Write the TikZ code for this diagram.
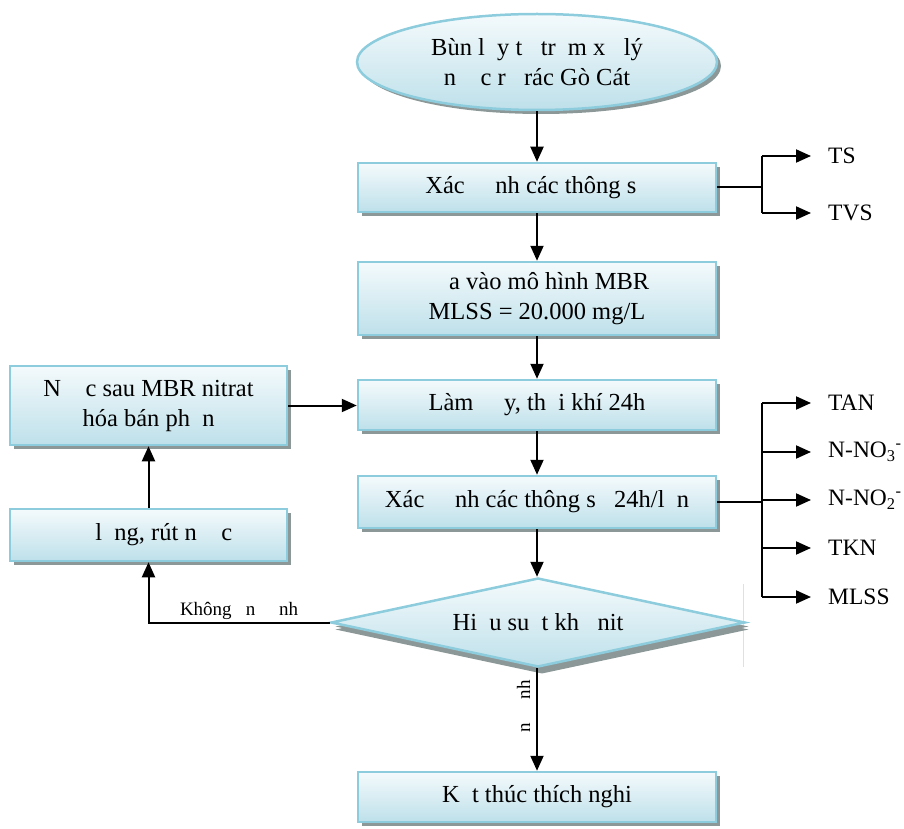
\documentclass[tikz,border=0pt]{standalone}
\usepackage{fontspec}
\setmainfont{Liberation Serif}
\usetikzlibrary{shapes.geometric,shadows,arrows.meta}
\definecolor{boxline}{RGB}{140,204,220}
\definecolor{boxtop}{RGB}{244,250,252}
\definecolor{boxbot}{RGB}{190,224,234}
\definecolor{shadowc}{RGB}{140,152,152}
\definecolor{faint}{RGB}{230,222,222}
\newcommand\mg{\hphantom{o}}
\begin{document}
\begin{tikzpicture}[x=1pt,y=-1pt,
  basebox/.style={draw=boxline, line width=2.5pt, top color=boxtop, bottom color=boxbot,
    drop shadow={shadow xshift=4pt, shadow yshift=-4pt, fill=shadowc, opacity=1},
    align=center, inner sep=0pt, font=\fontsize{24.5}{30}\selectfont},
  procbox/.style={basebox, rectangle, minimum width=358pt},
  sidebox/.style={basebox, rectangle, minimum width=277pt},
  arr/.style={line width=2pt, -{Triangle[length=15pt,width=13pt]}},
  conn/.style={line width=2pt},
  lbl/.style={anchor=west, inner sep=0pt, font=\fontsize{23.5}{26}\selectfont},
  small/.style={font=\fontsize{19}{21}\selectfont, inner sep=2pt}]
\useasboundingbox (0,0) rectangle (904,829);

% faint line near diamond tip
\draw[faint, line width=0.8pt] (743,584) -- (743,667);

\node[basebox, ellipse, minimum width=360pt, minimum height=96pt] (ell) at (537,62)
  {Bùn l\mg y t\mg{} tr\mg m x\mg{} lý\\n\mg\mg c r\mg{} rác Gò Cát};
\node[procbox, minimum height=49pt] (b1) at (537,187.5) {Xác \mg\mg nh các thông s\mg};
\node[procbox, minimum height=73pt] (b2) at (537,298.5) {\mg\mg a vào mô hình MBR\\MLSS = 20.000 mg/L};
\node[procbox, minimum height=50pt] (b3) at (537,405) {Làm \mg\mg y, th\mg i khí 24h};
\node[procbox, minimum height=52pt] (b4) at (537,502) {Xác \mg\mg nh các thông s\mg{} 24h/l\mg n};
\node[basebox, diamond, aspect=4.65, minimum width=414pt, minimum height=89pt,
  drop shadow={shadow xshift=4pt, shadow yshift=-7pt, fill=shadowc, opacity=1}] (dia) at (538,622.5)
  {Hi\mg u su\mg t kh\mg{} nit};
\node[procbox, minimum height=50pt] (b5) at (537,797) {K\mg t thúc thích nghi};

\node[sidebox, minimum height=79pt] (A) at (148.5,405.5) {N\mg\mg c sau MBR nitrat\\hóa bán ph\mg n};
\node[sidebox, minimum height=52pt] (B) at (148.5,535) {\mg\mg{} l\mg ng, rút n\mg\mg c};

% main flow
\draw[arr] (ell.south) -- (b1.north);
\draw[arr] (b1.south) -- (b2.north);
\draw[arr] (b2.south) -- (b3.north);
\draw[arr] (b3.south) -- (b4.north);
\draw[arr] (b4.south) -- (dia.north -| b4.south);
\draw[arr] (dia.south -| b5.north) -- (b5.north)
  node[pos=0.42, rotate=90, anchor=south, small, inner sep=6pt] {\mg n \mg\mg nh};

% loop back
\draw[arr] (dia.west) -| (B.south) node[pos=0.25, above, small, inner sep=1.5pt] {Không \mg n \mg\mg nh};
\draw[arr] (B.north) -- (A.south);
\draw[arr] (A.east) -- (A.east -| b3.west);

% right branches
\coordinate (j1) at (762,187.5);
\coordinate (j2) at (762,502);
\node[lbl] (ts) at (828,156) {TS};
\node[lbl] (tvs) at (828,213) {TVS};
\node[lbl] (tan) at (828,403) {TAN};
\node[lbl] (no3) at (828,452) {N-NO\textsubscript{3}\textsuperscript{-}};
\node[lbl] (no2) at (828,500) {N-NO\textsubscript{2}\textsuperscript{-}};
\node[lbl] (tkn) at (828,548) {TKN};
\node[lbl] (mlss) at (828,597) {MLSS};

\draw[conn] (b1.east) -- (j1);
\draw[conn] (j1 |- ts.west) -- (j1 |- tvs.west);
\foreach \t in {ts,tvs}
  \draw[arr] (j1 |- \t.west) -- ([xshift=-17pt]\t.west);

\draw[conn] (b4.east) -- (j2);
\draw[conn] (j2 |- tan.west) -- (j2 |- mlss.west);
\foreach \t in {tan,no3,no2,tkn,mlss}
  \draw[arr] (j2 |- \t.west) -- ([xshift=-17pt]\t.west);
\end{tikzpicture}
\end{document}
